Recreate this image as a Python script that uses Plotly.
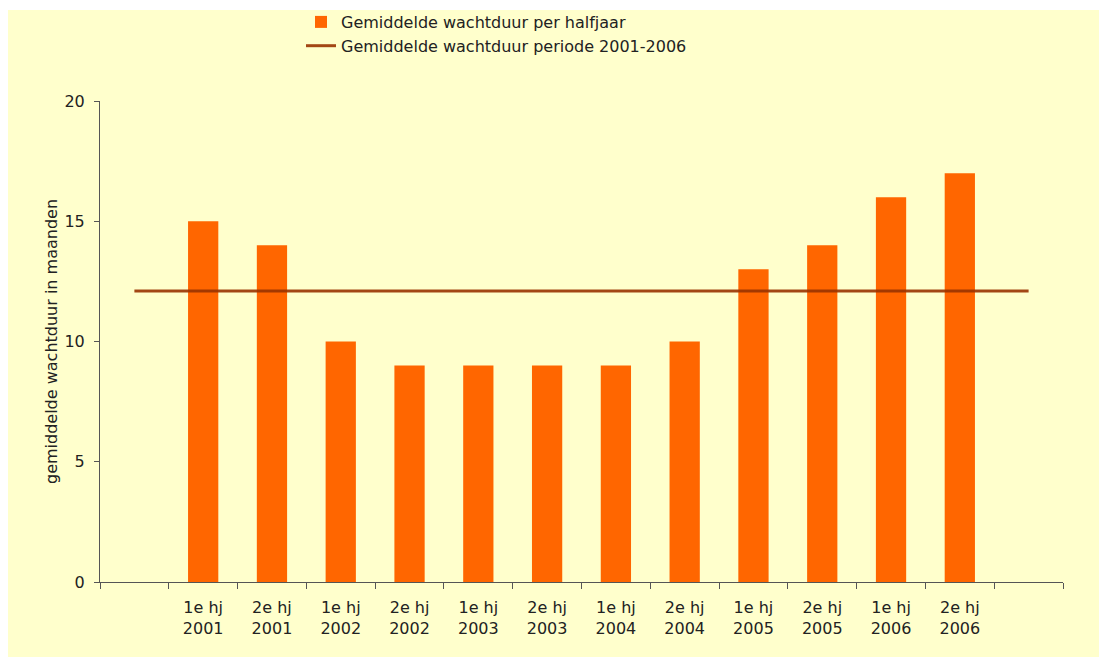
import plotly.graph_objects as go

categories = ["1e hj<br>2001", "2e hj<br>2001", "1e hj<br>2002", "2e hj<br>2002",
              "1e hj<br>2003", "2e hj<br>2003", "1e hj<br>2004", "2e hj<br>2004",
              "1e hj<br>2005", "2e hj<br>2005", "1e hj<br>2006", "2e hj<br>2006"]
wachtduur = [15, 14, 10, 9, 9, 9, 9, 10, 13, 14, 16, 17]
gemiddelde = 12.1
pad_start = " "
pad_end = "  "
all_cats = [pad_start] + categories + [pad_end]

# page has an 8px body margin: figure pixel = page pixel - 8
OFF = 8
W, H = 1107, 657
L, R, T, B = 100 - OFF, 44 + OFF, 101 - OFF, 75 + OFF
pw, ph = W - L - R, H - T - B

def px_x(p):
    return (p - L) / pw

def px_y(p):
    return 1 + (T - p) / ph

fig = go.Figure()
fig.add_trace(go.Bar(
    x=categories, y=wachtduur,
    marker=dict(color="#FF6600", line=dict(width=0)),
    name="Gemiddelde wachtduur per halfjaar",
))
fig.add_trace(go.Scatter(
    x=all_cats, y=[gemiddelde] * len(all_cats),
    mode="lines",
    line=dict(color="rgba(153,51,0,0.9)", width=3),
    name="Gemiddelde wachtduur periode 2001-2006",
))

font_family = "DejaVu Sans, Verdana, sans-serif"
fs = 16
fig.update_layout(
    width=W, height=H,
    margin=dict(l=L, r=R, t=T, b=B, pad=0, autoexpand=False),
    paper_bgcolor="#FFFFCC",
    plot_bgcolor="#FFFFCC",
    font=dict(family=font_family, size=fs, color="#222222"),
    bargap=0.56,
    showlegend=True,
    legend=dict(
        x=px_x(293), y=px_y(-3), xanchor="left", yanchor="top",
        bgcolor="rgba(0,0,0,0)", font=dict(size=fs, color="#222222"),
        tracegroupgap=0, traceorder="normal",
    ),
    xaxis=dict(
        type="category", categoryorder="array", categoryarray=all_cats,
        range=[-0.5, len(all_cats) - 0.5],
        tickson="boundaries", ticks="outside", ticklen=6, tickcolor="#555555",
        showline=True, linecolor="#555555", linewidth=1,
        showgrid=False, zeroline=False,
        tickfont=dict(size=fs, color="#222222"),
        ticklabelstandoff=11, tickangle=0, automargin=False,
    ),
    yaxis=dict(
        range=[0, 20], dtick=5, ticks="outside", ticklen=5, tickcolor="#555555",
        showline=True, linecolor="#555555", linewidth=1,
        showgrid=False, zeroline=False, automargin=False,
        tickfont=dict(size=fs, color="#222222"),
        ticklabelstandoff=6,
        title=dict(text="gemiddelde wachtduur in maanden", font=dict(size=fs, color="#222222"), standoff=2),
    ),
    shapes=[
        dict(type="rect", xref="paper", yref="paper", x0=px_x(-20), x1=px_x(W + 20),
             y0=px_y(2), y1=px_y(-20), fillcolor="white", line=dict(width=0), layer="above"),
    ],
)

fig.write_html("out.html")
